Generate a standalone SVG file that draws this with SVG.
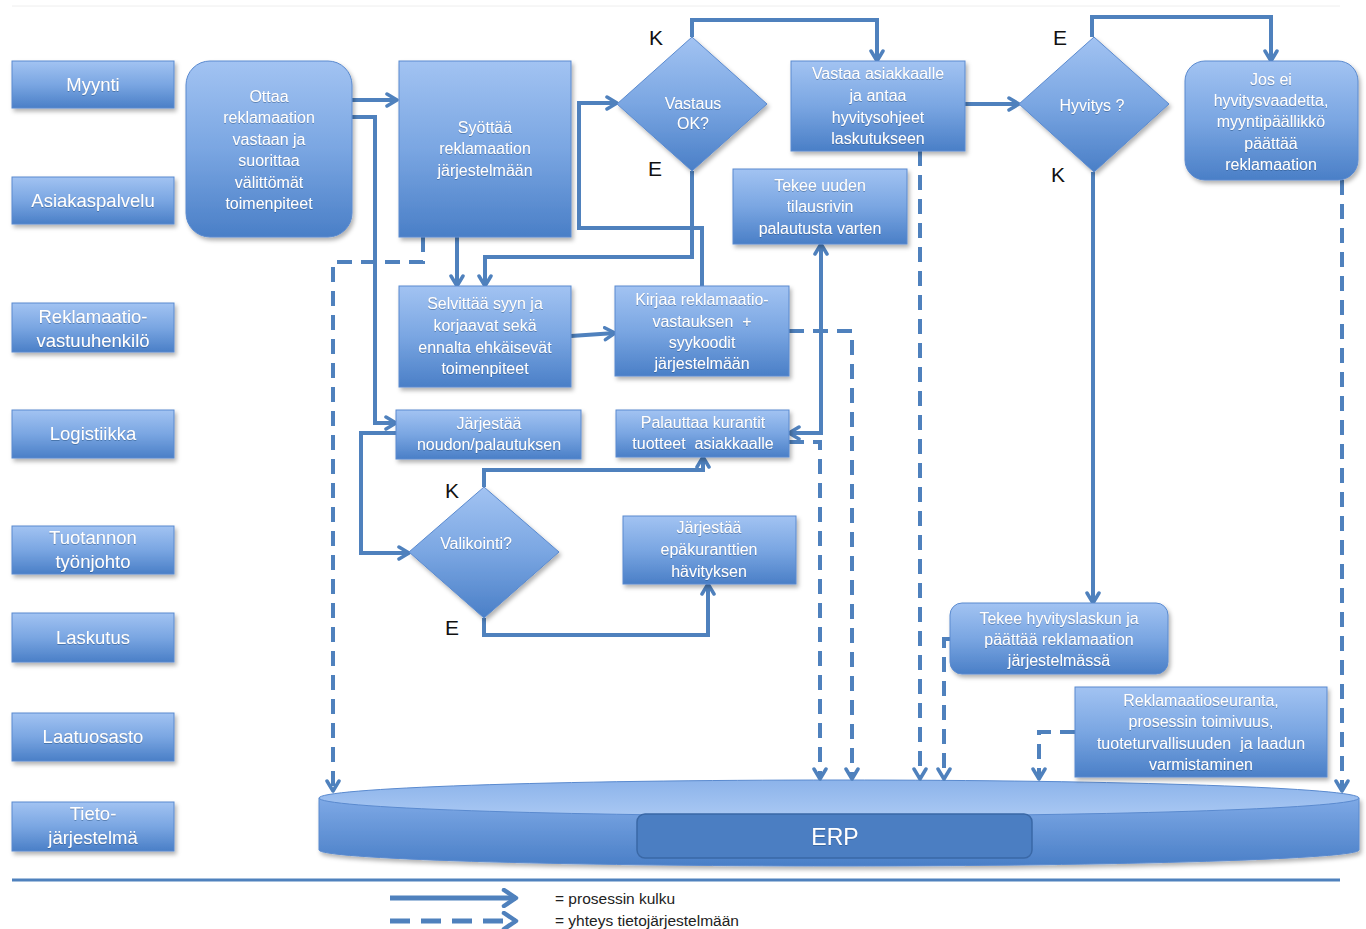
<svg xmlns="http://www.w3.org/2000/svg" width="1366" height="929" viewBox="0 0 1366 929">
<defs>
<linearGradient id="g" x1="0" y1="0" x2="0" y2="1">
<stop offset="0" stop-color="#a2c3f2"/>
<stop offset="0.5" stop-color="#7aa6e2"/>
<stop offset="1" stop-color="#4a7fc7"/>
</linearGradient>
<linearGradient id="gt" x1="0" y1="0" x2="0" y2="1">
<stop offset="0" stop-color="#8cb3ea"/>
<stop offset="1" stop-color="#a9c8f3"/>
</linearGradient>
<linearGradient id="gb" x1="0" y1="0" x2="0" y2="1">
<stop offset="0" stop-color="#7ea9e6"/>
<stop offset="1" stop-color="#4a7fc7"/>
</linearGradient>
<filter id="sh" x="-10%" y="-10%" width="125%" height="135%">
<feDropShadow dx="2" dy="3" stdDeviation="2" flood-color="#000" flood-opacity="0.3"/>
</filter>
<filter id="ts" x="-5%" y="-20%" width="110%" height="150%">
<feDropShadow dx="0" dy="0.7" stdDeviation="0.7" flood-color="#1f3f6e" flood-opacity="0.6"/>
</filter>
<marker id="a" viewBox="0 0 14 16" refX="12" refY="8" markerWidth="14" markerHeight="16" markerUnits="userSpaceOnUse" orient="auto-start-reverse">
<path d="M2,2 L12,8 L2,14" fill="none" stroke="#4f81bd" stroke-width="3.5" stroke-linecap="round" stroke-linejoin="round"/>
</marker>
<marker id="al" viewBox="0 0 18 20" refX="15" refY="10" markerWidth="18" markerHeight="20" markerUnits="userSpaceOnUse" orient="auto">
<path d="M3,2 L15,10 L3,18" fill="none" stroke="#4f81bd" stroke-width="4.5" stroke-linecap="round" stroke-linejoin="round"/>
</marker>
</defs>
<style>
.box{fill:url(#g);stroke:#5a8acf;stroke-width:1;filter:url(#sh)}
.t{font-family:"Liberation Sans",Arial,sans-serif;font-size:16px;fill:#ffffff;text-anchor:middle;filter:url(#ts)}
.lt{font-size:18.5px}
.k{font-family:"Liberation Sans",Arial,sans-serif;font-size:21px;fill:#111111;text-anchor:middle}
.c{fill:none;stroke:#4f81bd;stroke-width:4;marker-end:url(#a)}
.d{fill:none;stroke:#4f81bd;stroke-width:4;stroke-dasharray:15 9;marker-end:url(#a)}
.leg{font-family:"Liberation Sans",Arial,sans-serif;font-size:15.5px;fill:#222222}
.pre{white-space:pre}
</style>
<rect width="1366" height="929" fill="#ffffff"/>
<line x1="12" y1="6" x2="1340" y2="6" stroke="#eeeeee" stroke-width="1"/>

<g id="lanes">
<g id="lane-myynti"><rect class="box" x="12" y="61" width="162" height="47"/><text class="t lt" x="93" y="91">Myynti</text></g>
<g id="lane-asiakaspalvelu"><rect class="box" x="12" y="177" width="162" height="47"/><text class="t lt" x="93" y="207">Asiakaspalvelu</text></g>
<g id="lane-reklamaatio"><rect class="box" x="12" y="303" width="162" height="49"/><text class="t lt" x="93" y="323">Reklamaatio-</text><text class="t lt" x="93" y="347">vastuuhenkilö</text></g>
<g id="lane-logistiikka"><rect class="box" x="12" y="410" width="162" height="48"/><text class="t lt" x="93" y="440">Logistiikka</text></g>
<g id="lane-tuotannon"><rect class="box" x="12" y="526" width="162" height="48"/><text class="t lt" x="93" y="544">Tuotannon</text><text class="t lt" x="93" y="568">työnjohto</text></g>
<g id="lane-laskutus"><rect class="box" x="12" y="613" width="162" height="49"/><text class="t lt" x="93" y="644">Laskutus</text></g>
<g id="lane-laatuosasto"><rect class="box" x="12" y="713" width="162" height="48"/><text class="t lt" x="93" y="743">Laatuosasto</text></g>
<g id="lane-tieto"><rect class="box" x="12" y="802" width="162" height="49"/><text class="t lt" x="93" y="820">Tieto-</text><text class="t lt" x="93" y="844">järjestelmä</text></g>
</g>

<g id="erp">
<path d="M319,798 V850 A520,16 0 0 0 1359,850 V798 Z" fill="url(#gb)" stroke="#5a8acf" stroke-width="1" filter="url(#sh)"/>
<ellipse cx="839" cy="798" rx="520" ry="18" fill="url(#gt)" stroke="#5a8acf" stroke-width="1"/>
<rect x="637" y="814" width="395" height="44" rx="8" fill="#4b7ec2" stroke="#3a68a6" stroke-width="1.5"/>
<text class="t" style="font-size:23px" x="835" y="845">ERP</text>
</g>

<g id="connectors">
<path class="c" d="M352,100 H397"/>
<path class="c" d="M352,117 H375 V423 H396"/>
<path class="c" d="M457,237 V286"/>
<path class="c" d="M692,171 V257 H485 V286"/>
<path class="c" d="M702,286 V228 H579 V103 H617"/>
<path class="c" d="M692,37 V20 H877 V61"/>
<path class="c" d="M571,336 L615,333"/>
<path class="c" d="M965,104 H1019"/>
<path class="c" d="M1092,37 V17 H1271 V61"/>
<path class="c" d="M1093,172 V603"/>
<path class="c" d="M789,433 H821 V244" style="marker-start:url(#a)"/>
<path class="c" d="M396,433 H361 V553 H409"/>
<path class="c" d="M484,487 V470 H703 V457"/>
<path class="c" d="M484,618 V635 H708 V584"/>
<path class="d" d="M423,237 V262 H333 V791"/>
<path class="d" d="M789,331 H852 V779"/>
<path class="d" d="M789,442 H820 V779"/>
<path class="d" d="M920,151 V779"/>
<path class="d" d="M950,639 H944 V779"/>
<path class="d" d="M1075,732 H1039 V779"/>
<path class="d" d="M1342,180 V791"/>
</g>

<g id="node-ottaa"><rect class="box" x="186" y="61" width="166" height="176" rx="24"/>
<text class="t" x="269" y="102">Ottaa</text><text class="t" x="269" y="123">reklamaation</text><text class="t" x="269" y="145">vastaan ja</text><text class="t" x="269" y="166">suorittaa</text><text class="t" x="269" y="188">välittömät</text><text class="t" x="269" y="209">toimenpiteet</text></g>

<g id="node-syottaa"><rect class="box" x="399" y="61" width="172" height="176"/>
<text class="t" x="485" y="133">Syöttää</text><text class="t" x="485" y="154">reklamaation</text><text class="t" x="485" y="176">järjestelmään</text></g>

<g id="node-vastaus"><polygon class="box" points="692,37 767,104 692,171 617,104"/>
<text class="t" x="693" y="109">Vastaus</text><text class="t" x="693" y="129">OK?</text></g>

<g id="node-vastaa"><rect class="box" x="791" y="61" width="174" height="90"/>
<text class="t" x="878" y="79">Vastaa asiakkaalle</text><text class="t" x="878" y="101">ja antaa</text><text class="t" x="878" y="123">hyvitysohjeet</text><text class="t" x="878" y="144">laskutukseen</text></g>

<g id="node-hyvitys"><polygon class="box" points="1094,37 1169,104 1094,172 1019,104"/>
<text class="t" x="1092" y="111">Hyvitys ?</text></g>

<g id="node-josei"><rect class="box" x="1185" y="61" width="173" height="119" rx="20"/>
<text class="t" x="1271" y="85">Jos ei</text><text class="t" x="1271" y="106">hyvitysvaadetta,</text><text class="t" x="1271" y="127">myyntipäällikkö</text><text class="t" x="1271" y="149">päättää</text><text class="t" x="1271" y="170">reklamaation</text></g>

<g id="node-tekeeuuden"><rect class="box" x="733" y="169" width="174" height="75"/>
<text class="t" x="820" y="191">Tekee uuden</text><text class="t" x="820" y="212">tilausrivin</text><text class="t" x="820" y="234">palautusta varten</text></g>

<g id="node-selvittaa"><rect class="box" x="399" y="286" width="172" height="101"/>
<text class="t" x="485" y="309">Selvittää syyn ja</text><text class="t" x="485" y="331">korjaavat sekä</text><text class="t" x="485" y="353">ennalta ehkäisevät</text><text class="t" x="485" y="374">toimenpiteet</text></g>

<g id="node-kirjaa"><rect class="box" x="615" y="286" width="174" height="90"/>
<text class="t" x="702" y="305">Kirjaa reklamaatio-</text><text class="t pre" x="702" y="327">vastauksen  +</text><text class="t" x="702" y="348">syykoodit</text><text class="t" x="702" y="369">järjestelmään</text></g>

<g id="node-noudon"><rect class="box" x="396" y="410" width="185" height="49"/>
<text class="t" x="489" y="429">Järjestää</text><text class="t" x="489" y="450">noudon/palautuksen</text></g>

<g id="node-palauttaa"><rect class="box" x="616" y="410" width="173" height="47"/>
<text class="t" x="703" y="428">Palauttaa kurantit</text><text class="t pre" x="703" y="449">tuotteet  asiakkaalle</text></g>

<g id="node-valikointi"><polygon class="box" points="484,487 559,552 484,618 409,552"/>
<text class="t" x="476" y="549">Valikointi?</text></g>

<g id="node-epakurantit"><rect class="box" x="623" y="516" width="173" height="68"/>
<text class="t" x="709" y="533">Järjestää</text><text class="t" x="709" y="555">epäkuranttien</text><text class="t" x="709" y="577">hävityksen</text></g>

<g id="node-hyvityslasku"><rect class="box" x="950" y="603" width="218" height="71" rx="12"/>
<text class="t" x="1059" y="624">Tekee hyvityslaskun ja</text><text class="t" x="1059" y="645">päättää reklamaation</text><text class="t" x="1059" y="666">järjestelmässä</text></g>

<g id="node-seuranta"><rect class="box" x="1075" y="687" width="252" height="90"/>
<text class="t" x="1201" y="706">Reklamaatioseuranta,</text><text class="t" x="1201" y="727">prosessin toimivuus,</text><text class="t pre" x="1201" y="749">tuoteturvallisuuden  ja laadun</text><text class="t" x="1201" y="770">varmistaminen</text></g>

<g id="labels">
<text class="k" x="656" y="45">K</text>
<text class="k" x="655" y="176">E</text>
<text class="k" x="1060" y="45">E</text>
<text class="k" x="1058" y="182">K</text>
<text class="k" x="452" y="498">K</text>
<text class="k" x="452" y="635">E</text>
</g>

<g id="legend">
<line x1="12" y1="880" x2="1340" y2="880" stroke="#4f81bd" stroke-width="3"/>
<path d="M390,898 H516" fill="none" stroke="#4f81bd" stroke-width="5" marker-end="url(#al)"/>
<path d="M390,921 H516" fill="none" stroke="#4f81bd" stroke-width="5" stroke-dasharray="20 11" marker-end="url(#al)"/>
<text class="leg" x="555" y="904">= prosessin kulku</text>
<text class="leg" x="555" y="926">= yhteys tietojärjestelmään</text>
</g>
</svg>
